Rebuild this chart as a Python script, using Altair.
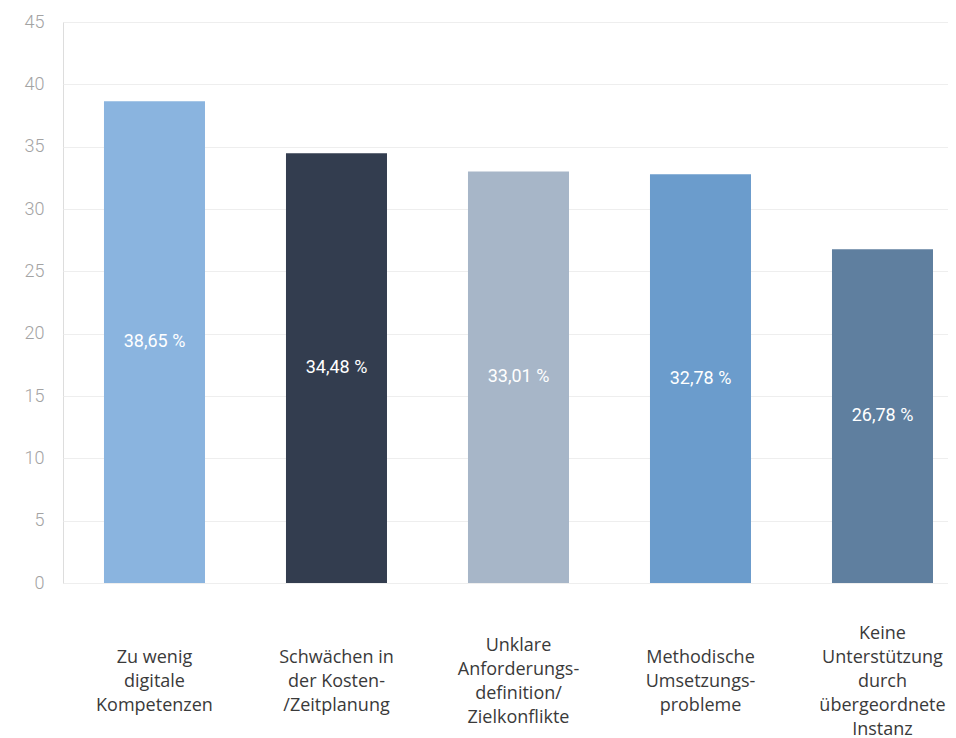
import altair as alt
import pandas as pd

categories = [
    "Zu wenig|digitale|Kompetenzen",
    "Schwächen in|der Kosten-|/Zeitplanung",
    "Unklare|Anforderungs-|definition/|Zielkonflikte",
    "Methodische|Umsetzungs-|probleme",
    "Keine|Unterstützung|durch|übergeordnete|Instanz",
]
values = [38.65, 34.48, 33.01, 32.78, 26.78]
colors = ["#8ab4df", "#333d4f", "#a7b6c8", "#6b9ccc", "#5f7f9f"]

df = pd.DataFrame({"cat": categories, "value": values, "color": colors})

nlines = "length(split(datum.value, '|'))"

x_enc = alt.X(
    "cat:N",
    sort=categories,
    scale=alt.Scale(paddingInner=0.445, paddingOuter=0.1538, align=0.732),
    axis=alt.Axis(
        title=None,
        labelAngle=0,
        labelExpr="split(datum.label, '|')",
        labelFont="Open Sans",
        labelFontSize=18,
        labelColor="#3a3a3a",
        labelLineHeight=24,
        labelBaseline="middle",
        labelPadding={
            "condition": [
                {"test": nlines + " == 3", "value": 74},
                {"test": nlines + " == 4", "value": 62},
            ],
            "value": 50,
        },
        ticks=False,
        domain=False,
        grid=False,
        labelLimit=300,
    ),
)

bars = alt.Chart(df).mark_bar().encode(
    x=x_enc,
    y=alt.Y(
        "value:Q",
        scale=alt.Scale(domain=[0, 45]),
        axis=alt.Axis(
            title=None,
            values=list(range(0, 50, 5)),
            labelFont="Roboto",
            labelFontWeight=300,
            labelFontSize=18,
            labelColor="#a3a3a3",
            labelPadding=19,
            ticks=False,
            domain=False,
            gridColor="#eeeeee",
            gridWidth=1.2,
        ),
    ),
    color=alt.Color("color:N", scale=None),
)

text = alt.Chart(df).transform_calculate(
    half="datum.value / 2",
    lab="replace(format(datum.value, '.2f'), '.', ',') + ' %'",
).mark_text(
    color="white", font="Roboto", fontSize=18, baseline="middle", align="center"
).encode(
    x=alt.X("cat:N", sort=categories),
    y=alt.Y("half:Q"),
    text="lab:N",
)

chart = (
    alt.layer(bars, text)
    .properties(
        width=885,
        height=561,
        autosize=alt.AutoSizeParams(type="none"),
        padding={"left": 55, "top": 14, "right": 0, "bottom": 155},
    )
    .configure_view(stroke="transparent", strokeWidth=0, fill="white")
    .configure_axis(domain=False, domainWidth=0)
    .configure_axisX(grid=False)
    .configure_axisLeft(domain=False, domainWidth=0, tickWidth=0)
    .configure(background="white")
)

chart.save("out.html", embed_options={"renderer": "svg", "actions": False})
